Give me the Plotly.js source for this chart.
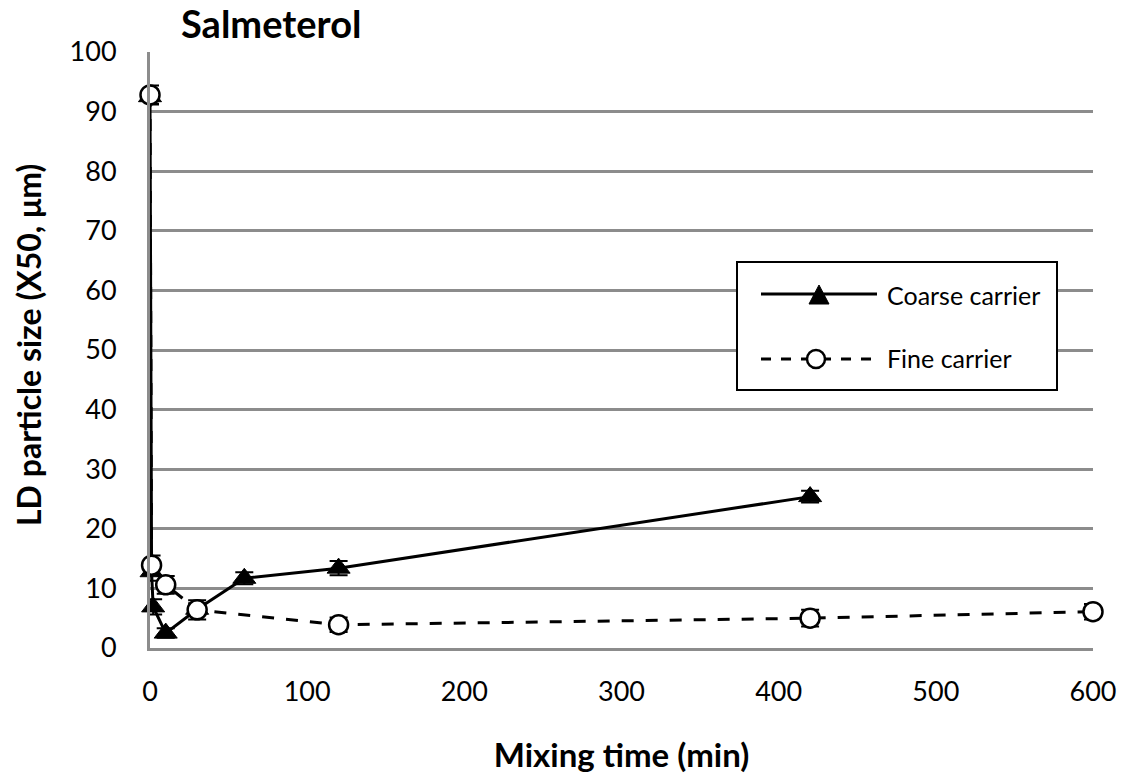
<!DOCTYPE html>
<html>
<head>
<meta charset="utf-8">
<script src="https://cdn.plot.ly/plotly-3.0.1.min.js"></script>
<style>html,body{margin:0;padding:0;background:#fff;}#chart{width:1124px;height:778px;}</style>
</head>
<body>
<div id="chart"></div>
<script>
// Data
const coarseTime = [0, 1, 2, 10, 30, 60, 120, 420];
const coarseX50 = [92.5, 12.8, 6.9, 2.5, 6.5, 11.7, 13.4, 25.4];
const coarseErr = [1.2, 1.5, 1.3, 0.8, 1.0, 1.0, 1.2, 1.0];

const fineTime = [0, 1, 10, 30, 120, 420, 600];
const fineX50 = [92.8, 13.9, 10.6, 6.4, 3.9, 5.0, 6.1];
const fineErr = [1.6, 1.6, 1.5, 1.6, 1.2, 1.4, 1.3];

const xTicks = [0, 100, 200, 300, 400, 500, 600];
const yTicks = [0, 10, 20, 30, 40, 50, 60, 70, 80, 90, 100];

const FONT = 'Lato, "Open Sans", sans-serif';

const traces = [
  {
    x: coarseTime, y: coarseX50, name: 'Coarse carrier', type: 'scatter', mode: 'lines+markers',
    line: {color: '#000', width: 3, dash: 'solid'},
    marker: {symbol: 'triangle-up', size: 20, color: '#000', line: {color: '#000', width: 1}},
    error_y: {type: 'data', array: coarseErr, visible: true, color: '#000', thickness: 2, width: 9},
    showlegend: false, cliponaxis: false
  },
  {
    x: fineTime, y: fineX50, name: 'Fine carrier', type: 'scatter', mode: 'lines+markers',
    line: {color: '#000', width: 3, dash: '12px,12px'},
    marker: {symbol: 'circle', size: 19, color: '#fff', line: {color: '#000', width: 2.5}},
    error_y: {type: 'data', array: fineErr, visible: true, color: '#000', thickness: 2, width: 9},
    showlegend: false, cliponaxis: false
  }
];

// legend geometry (paper coordinates)
function px(xp) { return (xp - 150) / 943; }
function py(yp) { return (648 - yp) / 596; }

const shapes = [
  {type: 'rect', xref: 'paper', yref: 'paper', x0: px(737), x1: px(1057), y0: py(390), y1: py(262),
   line: {color: '#000', width: 2}, fillcolor: '#fff', layer: 'above'},
  {type: 'line', xref: 'paper', yref: 'paper', x0: px(761), x1: px(877), y0: py(294), y1: py(294),
   line: {color: '#000', width: 3}, layer: 'above'},
  {type: 'path', xref: 'paper', yref: 'paper', xsizemode: 'pixel', ysizemode: 'pixel',
   xanchor: px(819), yanchor: py(294), path: 'M -10 -10 L 10 -10 L 0 9 Z',
   fillcolor: '#000', line: {color: '#000', width: 1}, layer: 'above'},
  {type: 'line', xref: 'paper', yref: 'paper', x0: px(761), x1: px(877), y0: py(359), y1: py(359),
   line: {color: '#000', width: 3, dash: '10px,10px'}, layer: 'above'},
  {type: 'circle', xref: 'paper', yref: 'paper', xsizemode: 'pixel', ysizemode: 'pixel',
   xanchor: px(816), yanchor: py(359), x0: -9, x1: 9, y0: -9, y1: 9,
   fillcolor: '#fff', line: {color: '#000', width: 2.5}, layer: 'above'}
];

const annotations = [
  {xref: 'paper', yref: 'paper', x: px(885), y: py(295), text: 'Coarse carrier', showarrow: false,
   xanchor: 'left', yanchor: 'middle', font: {family: FONT, size: 25, color: '#000'}},
  {xref: 'paper', yref: 'paper', x: px(885), y: py(358), text: 'Fine carrier', showarrow: false,
   xanchor: 'left', yanchor: 'middle', font: {family: FONT, size: 25, color: '#000'}},
  {xref: 'paper', yref: 'paper', x: px(28), y: py(345), text: '<b>LD particle size (X50, μm)</b>',
   textangle: -90, showarrow: false, xanchor: 'center', yanchor: 'middle',
   font: {family: FONT, size: 32, color: '#000'}}
];

const layout = {
  width: 1124, height: 778,
  margin: {l: 150, r: 31, t: 52, b: 130},
  paper_bgcolor: '#fff', plot_bgcolor: '#fff',
  font: {family: FONT, color: '#000', size: 24},
  title: {text: '<b>Salmeterol</b>', x: 181 / 1124, xanchor: 'left', y: 1 - 25 / 778, yanchor: 'middle',
          font: {family: FONT, size: 38, color: '#000'}},
  xaxis: {
    range: [0, 600], tickvals: xTicks, ticktext: xTicks.map(String),
    showgrid: false, zeroline: false, showline: true, linecolor: '#8c8c8c', linewidth: 3,
    ticks: '', ticklen: 0, ticklabelstandoff: 18, tickfont: {family: FONT, size: 27}, automargin: false,
    title: {text: '<b>Mixing time (min)</b>', font: {family: FONT, size: 33}, standoff: 38}
  },
  yaxis: {
    range: [0, 100], tickvals: yTicks, ticktext: yTicks.map(String),
    showgrid: true, gridcolor: '#8c8c8c', gridwidth: 3,
    zeroline: false, showline: true, linecolor: '#8c8c8c', linewidth: 3,
    ticks: '', ticklabelstandoff: 25, tickfont: {family: FONT, size: 27}, automargin: false
  },
  shapes: shapes,
  annotations: annotations,
  showlegend: false
};

Plotly.newPlot('chart', traces, layout, {displayModeBar: false, staticPlot: true});
</script>
</body>
</html>
